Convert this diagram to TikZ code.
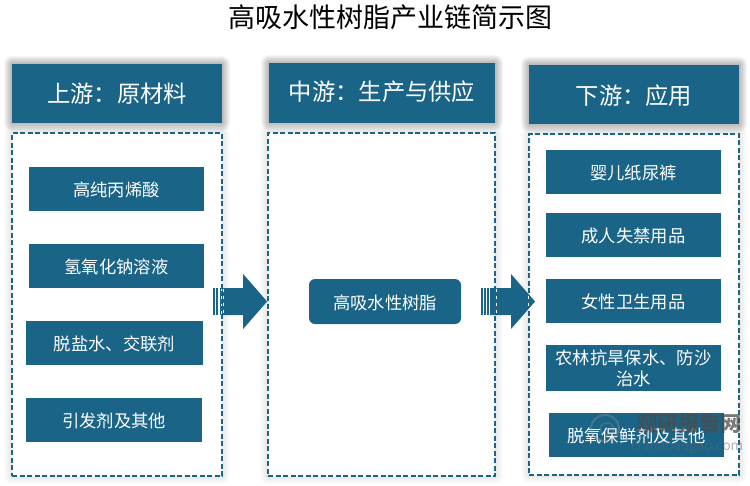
\documentclass[tikz,border=0pt]{standalone}
\usepackage{fontspec}
\setmainfont{Noto Sans CJK SC}
\usetikzlibrary{calc}
\definecolor{teal1}{HTML}{1A6488}
\tikzset{
  x=1pt,y=-1pt,
  boxtxt/.style={font=\fontsize{17.3}{21}\selectfont,text=white},
  headtxt/.style={font=\fontsize{23.3}{26}\selectfont,text=white},
  arrowfill/.style={fill=teal1,draw=none},
  panel/.style={draw=teal1,line width=1.8pt,dash pattern=on 5pt off 2.5pt,fill=white},
  overdash/.style={white,line width=.8pt,dash pattern=on 3pt off 4pt},
}
\newcommand{\glowbox}[5]{% x1 y1 x2 y2 strength
  \foreach \g in {1,...,8}{
    \fill[black,opacity=#5,rounded corners=\g pt] (#1-\g,#2-\g) rectangle (#3+\g,#4+\g);
  }}
\newcommand{\lowered}[2]{\raisebox{-#1pt}[0pt][0pt]{\begin{tabular}{@{}c@{}}#2\end{tabular}}}
\newcommand{\pbox}[6]{% name x1 y1 x2 y2 text
  \node[fill=teal1,boxtxt,minimum width=#4-#2,minimum height=#5-#3,inner sep=0pt,anchor=center] (#1) at ({(#2+#4)/2},{(#3+#5)/2}) {\lowered{7.3}{#6}};}
\begin{document}
\begin{tikzpicture}
\useasboundingbox (0,0) rectangle (750,485);
\fill[white] (0,0) rectangle (750,485);
\node[font=\fontsize{27}{30}\selectfont,text=black] (title) at (390,17) {高吸水性树脂产业链简示图};
% glows
\glowbox{12}{64}{222}{123}{0.035}
\glowbox{269}{63}{495}{122.5}{0.035}
\glowbox{529}{64.5}{739}{124}{0.035}
\glowbox{12}{133}{222}{476}{0.012}
\glowbox{268}{133}{495}{476}{0.012}
\glowbox{529}{134}{739}{475}{0.012}
% headers
\node[fill=teal1,headtxt,minimum width=210,minimum height=59,inner sep=0pt] (h1) at (117,93.5) {\lowered{9.8}{上游：原材料}};
\node[fill=teal1,headtxt,minimum width=226,minimum height=59.5,inner sep=0pt] (h2) at (382,92.75) {\lowered{8.3}{中游：生产与供应}};
\node[fill=teal1,headtxt,minimum width=210,minimum height=59.5,inner sep=0pt] (h3) at (634,94.25) {\lowered{10}{下游：应用}};
% panels
\node[panel,minimum width=210,minimum height=343,inner sep=0pt] (p1) at (117,304.5) {};
\node[panel,minimum width=227,minimum height=343,inner sep=0pt] (p2) at (381.5,304.5) {};
\node[panel,minimum width=210,minimum height=341,inner sep=0pt] (p3) at (634,304.5) {};
% left boxes
\pbox{a1}{29}{167}{204}{211}{高纯丙烯酸}
\pbox{a2}{29}{244}{204}{288}{氢氧化钠溶液}
\pbox{a3}{26}{321}{203}{365}{脱盐水、交联剂}
\pbox{a4}{26}{398}{202}{442}{引发剂及其他}
% centre
\node[fill=teal1,boxtxt,rounded corners=6pt,minimum width=152,minimum height=45,inner sep=0pt] (m) at (385,301.5) {\lowered{7.8}{高吸水性树脂}};
% right boxes
\pbox{c1}{546}{150}{721}{194}{婴儿纸尿裤}
\pbox{c2}{546}{213}{721}{257}{成人失禁用品}
\pbox{c3}{546}{279}{721}{323}{女性卫生用品}
\pbox{c4}{546}{345}{721}{391}{农林抗旱保水、防沙\\治水}
\pbox{c5}{549}{413}{724}{457}{脱氧保鲜剂及其他}
% arrows
\coordinate (t1) at (p2.west |- m.center);
\coordinate (t2) at (535,301.5);
\foreach \t in {t1,t2}{
  \fill[teal1] ($(\t)+(-54,-13.5)$) rectangle ($(\t)+(-52.2,13.5)$);
  \fill[teal1] ($(\t)+(-50.8,-13.5)$) rectangle ($(\t)+(-49,13.5)$);
  \fill[teal1] ($(\t)+(-47.6,-13.5)$) rectangle ($(\t)+(-45.8,13.5)$);
  \path[arrowfill] ($(\t)+(-45,-13.5)$) -- ($(\t)+(-24,-13.5)$) -- ($(\t)+(-24,-27.5)$) -- (\t) -- ($(\t)+(-24,27.5)$) -- ($(\t)+(-24,13.5)$) -- ($(\t)+(-45,13.5)$) -- cycle;
}
% panel edges showing through the arrows
\draw[overdash] (p1.east |- t1) ++(0,-13) -- ++(0,26);
\draw[overdash] (p2.east |- t2) ++(0,-13) -- ++(0,26);
\draw[overdash] (p3.west |- t2) ++(0,-6) -- ++(0,12);
% watermark
\draw[black!40,opacity=.35,line width=2pt] (605,428) ellipse (14 and 13);
\draw[black!40,opacity=.3,line width=1.5pt] (607,429) ellipse (7 and 6);
\node[font=\bfseries\fontsize{21}{23}\selectfont,text=black!70,opacity=.75,anchor=center] (wm1) at (689,423.5) {观研报告网};
\node[font=\fontsize{13.5}{15}\selectfont,text=black!60,opacity=.5,anchor=center] (wm2) at (687,446.5) {chinabaogao.com};
\end{tikzpicture}
\end{document}
